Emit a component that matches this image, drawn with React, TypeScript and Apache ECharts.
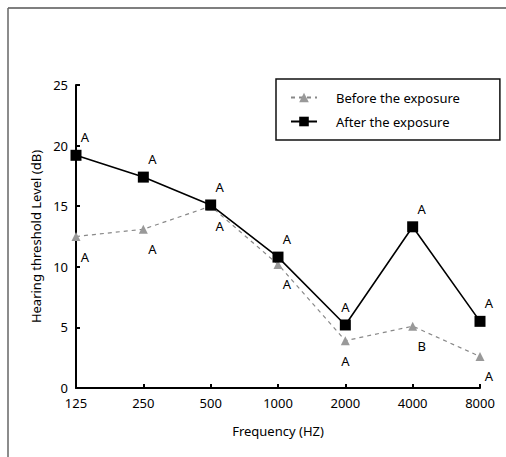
import React, { useEffect, useRef } from "react";
import * as echarts from "echarts";

const frequencies = ["125", "250", "500", "1000", "2000", "4000", "8000"];
const beforeValues = [12.5, 13.1, 15.0, 10.2, 3.9, 5.1, 2.6];
const afterValues = [19.2, 17.4, 15.1, 10.8, 5.2, 13.3, 5.5];
const beforeLetters = ["A", "A", "A", "A", "A", "B", "A"];
const afterLetters = ["A", "A", "A", "A", "A", "A", "A"];
const yTicks = [0, 5, 10, 15, 20, 25];

const FONT = "'Noto Sans', sans-serif";
const CENTERED = 4;

export default function App() {
  const ref = useRef<HTMLDivElement>(null);
  useEffect(() => {
    if (!ref.current) return;
    const chart = echarts.init(ref.current, null, { renderer: "svg" });
    const mkLabel = (letters: string[], pos: string, dist: number, off: number[]) =>
      letters.map((t, i) => ({
        show: true,
        position: pos,
        distance: dist,
        offset: i === CENTERED ? [0, off[1]] : off,
        fontFamily: FONT,
        fontSize: 13,
        color: "#000",
        formatter: t,
      }));
    const beforeLabels = mkLabel(beforeLetters, "bottom", 7, [9, 2]);
    const afterLabels = mkLabel(afterLetters, "top", 4, [9, -2]);
    chart.setOption({
      animation: false,
      backgroundColor: "#fff",
      textStyle: { fontFamily: FONT },
      grid: { left: 76, right: 26, top: 85, bottom: 69 },
      graphic: [
        { type: "line", shape: { x1: 8, y1: 8, x2: 506, y2: 8 }, style: { stroke: "#555", lineWidth: 1.5 } },
        { type: "line", shape: { x1: 8, y1: 8, x2: 8, y2: 457 }, style: { stroke: "#666", lineWidth: 1.5 } },
      ],
      legend: {
        left: 276,
        top: 79,
        orient: "vertical",
        width: 207,
        padding: [12, 40, 12, 14],
        itemGap: 11,
        itemWidth: 26,
        itemHeight: 12,
        borderColor: "#111",
        borderWidth: 1.5,
        textStyle: { fontFamily: FONT, fontSize: 13, color: "#000", padding: [0, 0, 0, 14] },
        data: [{ name: "Before the exposure" }, { name: "After the exposure" }],
      },
      xAxis: {
        type: "category",
        data: frequencies,
        boundaryGap: false,
        name: "Frequency (HZ)",
        nameLocation: "middle",
        nameGap: 36,
        nameTextStyle: { fontFamily: FONT, fontSize: 13, color: "#000" },
        axisLine: { lineStyle: { color: "#000", width: 2 } },
        axisTick: { inside: true, length: 4, lineStyle: { color: "#000", width: 2 } },
        axisLabel: { fontFamily: FONT, fontSize: 13, color: "#000", margin: 8 },
        splitLine: { show: false },
      },
      yAxis: {
        type: "value",
        min: 0,
        max: 25,
        interval: 5,
        name: "Hearing threshold Level (dB)",
        nameLocation: "middle",
        nameGap: 30,
        nameRotate: 90,
        nameTextStyle: { fontFamily: FONT, fontSize: 13, color: "#000" },
        axisLine: { show: true, lineStyle: { color: "#000", width: 2 } },
        axisTick: { show: true, inside: true, length: 4, lineStyle: { color: "#000", width: 2 } },
        axisLabel: {
          fontFamily: FONT,
          fontSize: 13,
          color: "#000",
          margin: 8,
          formatter: (v: number) => (yTicks.includes(v) ? String(v) : ""),
        },
        splitLine: { show: false },
      },
      series: [
        {
          name: "Before the exposure",
          type: "line",
          data: beforeValues.map((v, i) => ({ value: v, label: beforeLabels[i] })),
          symbol: "triangle",
          symbolSize: 9,
          itemStyle: { color: "#999" },
          lineStyle: { color: "#888", width: 1.2, type: [4, 4] },
          z: 2,
        },
        {
          name: "After the exposure",
          type: "line",
          data: afterValues.map((v, i) => ({ value: v, label: afterLabels[i] })),
          symbol: "rect",
          symbolSize: 11,
          itemStyle: { color: "#000" },
          lineStyle: { color: "#000", width: 1.6 },
          z: 3,
        },
      ],
    });
    return () => chart.dispose();
  }, []);
  return (
    <div
      ref={ref}
      style={{ position: "absolute", left: 0, top: 0, width: 506, height: 457 }}
    />
  );
}
